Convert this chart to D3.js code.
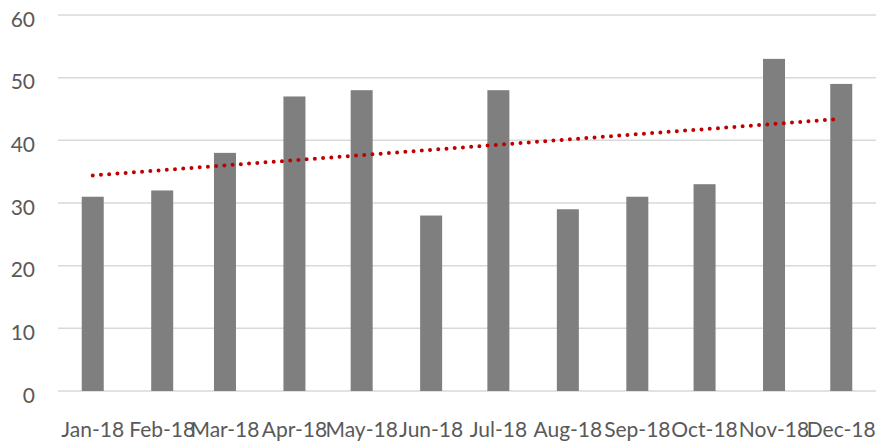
<!DOCTYPE html>
<html>
<head>
<meta charset="utf-8">
<script src="https://cdn.jsdelivr.net/npm/d3@7/dist/d3.min.js"></script>
<style>
  html, body { margin: 0; padding: 0; background: #fff; }
  svg { display: block; }
  text { font-family: Lato, "Open Sans", sans-serif; fill: #595959; }
</style>
</head>
<body>
<svg id="chart" width="878" height="441"></svg>
<script>
// Monthly totals for 2018 (first day of each month)
const months = ["2018-01-01","2018-02-01","2018-03-01","2018-04-01","2018-05-01","2018-06-01",
                "2018-07-01","2018-08-01","2018-09-01","2018-10-01","2018-11-01","2018-12-01"];
const monthLabels = ["Jan-18","Feb-18","Mar-18","Apr-18","May-18","Jun-18",
                     "Jul-18","Aug-18","Sep-18","Oct-18","Nov-18","Dec-18"];
const values = [31, 32, 38, 47, 48, 28, 48, 29, 31, 33, 53, 49];
const yTicks = [0, 10, 20, 30, 40, 50, 60];

const parse = d3.utcParse("%Y-%m-%d");
const dates = months.map(parse);

const svg = d3.select("#chart");
const plotLeft = 58, plotRight = 876, plotTop = 15, plotBottom = 391;

// Date axis: positions follow the number of days between months
const x = d3.scaleUtc()
  .domain([d3.utcHour.offset(parse("2017-12-16"), 12), d3.utcHour.offset(parse("2018-12-16"), 12)])
  .range([plotLeft, plotRight]);
const y = d3.scaleLinear().domain([0, 60]).range([plotBottom, plotTop]);

// Horizontal gridlines
svg.append("g")
  .selectAll("line")
  .data(yTicks)
  .join("line")
  .attr("x1", plotLeft).attr("x2", plotRight)
  .attr("y1", d => y(d)).attr("y2", d => y(d))
  .attr("stroke", "#d9d9d9")
  .attr("stroke-width", 1.5);

// Y-axis labels
svg.append("g")
  .selectAll("text")
  .data(yTicks)
  .join("text")
  .attr("x", 35)
  .attr("y", d => y(d) + 5)
  .attr("dy", "0.32em")
  .attr("text-anchor", "end")
  .style("font-size", "21px")
  .text(d => d);

// Bars
const barW = 22;
svg.append("g")
  .selectAll("rect")
  .data(values)
  .join("rect")
  .attr("x", (d, i) => x(dates[i]) - barW / 2)
  .attr("width", barW)
  .attr("y", d => y(d))
  .attr("height", d => y(0) - y(d))
  .attr("fill", "#7f7f7f");

// Linear trendline (least squares over month index)
const n = values.length;
const idx = d3.range(1, n + 1);
const mx = d3.mean(idx), my = d3.mean(values);
const slope = d3.sum(idx, (k, i) => (k - mx) * (values[i] - my)) / d3.sum(idx, k => (k - mx) ** 2);
const intercept = my - slope * mx;
const trend = [
  [dates[0], intercept + slope * 1],
  [dates[n - 1], intercept + slope * n]
];
svg.append("path")
  .datum(trend)
  .attr("d", d3.line().x(d => x(d[0])).y(d => y(d[1])))
  .attr("fill", "none")
  .attr("stroke", "#c00000")
  .attr("stroke-width", 4)
  .attr("stroke-linecap", "round")
  .attr("stroke-dasharray", "0 8.25");

// X-axis labels
svg.append("g")
  .selectAll("text")
  .data(monthLabels)
  .join("text")
  .attr("x", (d, i) => x(dates[i]))
  .attr("y", 437)
  .attr("text-anchor", "middle")
  .style("font-size", "21px")
  .text(d => d);
</script>
</body>
</html>
